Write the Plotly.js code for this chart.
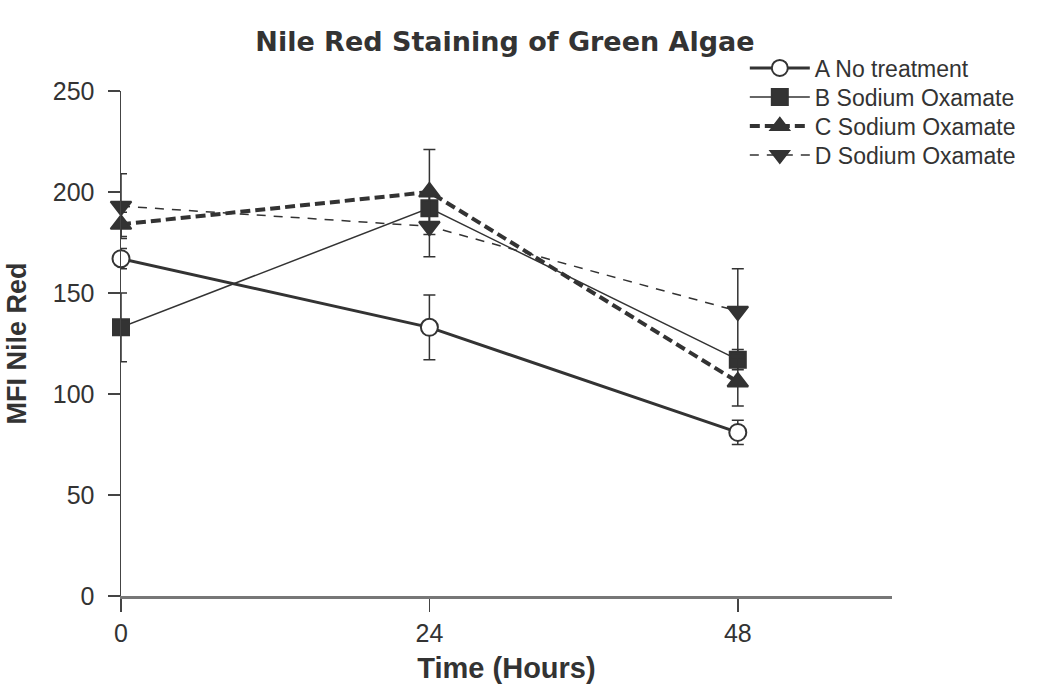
<!DOCTYPE html>
<html><head><meta charset="utf-8">
<script src="https://cdn.plot.ly/plotly-3.0.1.min.js"></script>
<style>html,body{margin:0;padding:0;background:#fff}#c{width:1052px;height:690px}</style>
</head><body><div id="c"></div>
<script>
const hours = [0, 24, 48];
const seriesNames = ["A No treatment", "B Sodium Oxamate", "C Sodium Oxamate", "D Sodium Oxamate"];
const valuesA = [167, 133, 81];
const errorsA = [5, 16, 6];
const valuesB = [133, 192, 117];
const errorsB = [17, 8, 5];
const valuesC = [184, 200, 106];
const errorsC = [6, 21, 12];
const valuesD = [193, 183, 141];
const errorsD = [16, 15, 21];

const ink = '#333333';
const sans = 'Liberation Sans, Arial, sans-serif';
function tr(name, y, err, lineW, dash, sym, msize, mfill, legendId) {
  return {
    x: hours, y: y, name: name, type: 'scatter', mode: 'lines+markers',
    cliponaxis: false, legend: legendId,
    line: {color: ink, width: lineW, dash: dash},
    marker: {symbol: sym, size: msize, color: mfill, line: {color: ink, width: 2}},
    error_y: {type: 'data', array: err, visible: true, color: ink, thickness: 1.5, width: 6}
  };
}
const data = [
  tr(seriesNames[0], valuesA, errorsA, 3, 'solid', 'circle', 17, '#ffffff', 'legend'),
  tr(seriesNames[1], valuesB, errorsB, 1.5, 'solid', 'square', 16, ink, 'legend2'),
  tr(seriesNames[2], valuesC, errorsC, 4, '10px,5px', 'triangle-up', 18, ink, 'legend3'),
  tr(seriesNames[3], valuesD, errorsD, 1.5, '9px,8px', 'triangle-down', 18, ink, 'legend4')
];

function leg(yc) {
  return {xref: 'container', yref: 'container', x: 0.708, y: 1 - yc / 690,
          xanchor: 'left', yanchor: 'middle',
          font: {family: sans, size: 23, color: '#333'},
          bgcolor: 'rgba(0,0,0,0)', itemwidth: 60};
}

const layout = {
  width: 1052, height: 690,
  margin: {l: 121, r: 160, t: 91, b: 94, autoexpand: false},
  paper_bgcolor: '#fff', plot_bgcolor: '#fff',
  font: {family: sans, color: '#333'},
  title: {text: '<b>Nile Red Staining of Green Algae</b>',
          font: {family: 'DejaVu Sans, Liberation Sans, sans-serif', size: 27, color: '#333'},
          x: 0.48, xanchor: 'center', y: 0.94, yanchor: 'middle'},
  xaxis: {
    range: [0, 60], tickvals: hours, ticktext: hours.map(String),
    showgrid: false, zeroline: false, showline: true, linecolor: '#777', linewidth: 3,
    ticks: 'outside', ticklen: 13, tickwidth: 1.5, tickcolor: '#444',
    tickfont: {family: sans, size: 25, color: '#333'},
    ticklabelstandoff: 0,
    title: {text: '<b>Time (Hours)</b>', font: {size: 29, color: '#333'}, standoff: 12}
  },
  yaxis: {
    range: [0, 250], tickvals: [0, 50, 100, 150, 200, 250],
    showgrid: false, zeroline: false, showline: true, linecolor: '#444', linewidth: 1.5,
    ticks: 'outside', ticklen: 12, tickwidth: 1.5, tickcolor: '#444',
    tickfont: {family: sans, size: 25, color: '#333'},
    ticklabelstandoff: 8,
    title: {text: '<b>MFI Nile Red</b>', font: {size: 27, color: '#333'}, standoff: 18}
  },
  showlegend: true,
  legend: leg(68), legend2: leg(97), legend3: leg(126), legend4: leg(155)
};
Plotly.newPlot('c', data, layout, {displayModeBar: false, staticPlot: true});
</script></body></html>
